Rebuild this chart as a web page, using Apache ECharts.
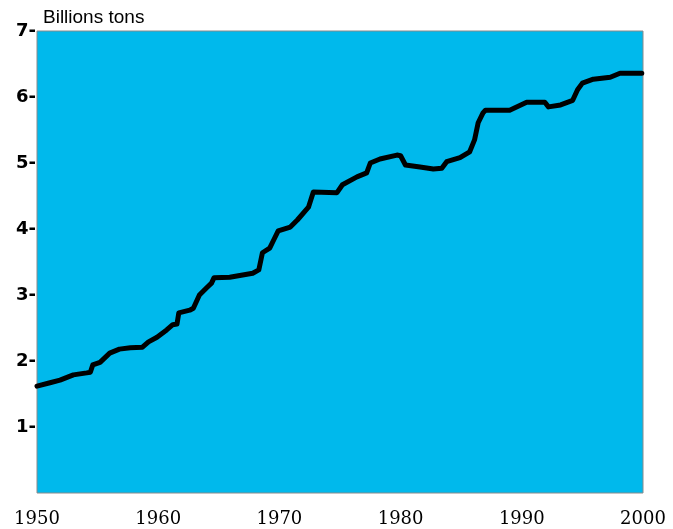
<!DOCTYPE html>
<html>
<head>
<meta charset="utf-8">
<script src="https://cdn.jsdelivr.net/npm/echarts@6/dist/echarts.min.js"></script>
<style>html,body{margin:0;padding:0;background:#fff;}#c{width:673px;height:529px;}</style>
</head>
<body>
<div id="c"></div>
<script>
var years = [1950.0,1951.07,1951.9,1953.0,1954.1,1954.4,1954.6,1955.2,1956.0,1956.8,1957.7,1958.7,1959.2,1959.9,1960.7,1961.2,1961.55,1961.7,1962.6,1962.9,1963.4,1964.0,1964.4,1964.6,1965.9,1967.8,1968.3,1968.6,1969.2,1969.6,1969.9,1970.9,1971.5,1972.4,1972.8,1974.75,1975.2,1976.4,1977.2,1977.5,1978.3,1979.7,1980.0,1980.4,1981.6,1982.7,1983.4,1983.8,1984.9,1985.7,1986.1,1986.4,1986.8,1987.0,1989.0,1990.4,1991.9,1992.2,1993.2,1994.2,1994.6,1995.0,1995.9,1997.3,1998.1,1999.9];
var tons = [1.62,1.67,1.71,1.79,1.82,1.83,1.94,1.98,2.12,2.18,2.20,2.21,2.29,2.36,2.47,2.55,2.56,2.73,2.77,2.80,3.00,3.11,3.18,3.26,3.27,3.33,3.38,3.64,3.71,3.86,3.97,4.03,4.14,4.33,4.56,4.55,4.67,4.79,4.85,5.00,5.06,5.12,5.11,4.97,4.94,4.91,4.92,5.02,5.08,5.17,5.35,5.61,5.76,5.80,5.80,5.92,5.92,5.85,5.88,5.95,6.11,6.21,6.27,6.30,6.36,6.36];
var yTicks = [1,2,3,4,5,6,7];
var xTicks = [1950,1960,1970,1980,1990,2000];
var unitLabel = 'Billions tons';

var data = years.map(function(y,i){return [y,tons[i]];});
var chart = echarts.init(document.getElementById('c'));
chart.setOption({
  animation:false,
  backgroundColor:'#ffffff',
  title:{text:unitLabel,left:38,top:3,textStyle:{fontFamily:'Liberation Sans, Arial, sans-serif',fontSize:19,fontWeight:'normal',color:'#000'}},
  grid:{left:37,right:30,top:31,bottom:36,show:true,backgroundColor:'#00B9EC',borderColor:'#8a8a8a',borderWidth:1},
  xAxis:{type:'value',min:1950,max:2000,interval:10,
    axisLine:{show:false},axisTick:{show:false},splitLine:{show:false},
    axisLabel:{margin:17,color:'#000',fontFamily:'DejaVu Serif, serif',fontSize:18,
      formatter:function(v){return xTicks.indexOf(v)>=0?String(v):'';}}},
  yAxis:{type:'value',min:0,max:7,interval:1,
    axisLine:{show:false},axisTick:{show:false},splitLine:{show:false},
    axisLabel:{margin:1,color:'#000',fontFamily:'DejaVu Sans, Verdana, sans-serif',fontWeight:'bold',fontSize:18,
      formatter:function(v){return yTicks.indexOf(v)>=0?(v+'-'):'';}}},
  series:[{type:'line',data:data,showSymbol:false,smooth:false,
    lineStyle:{color:'#000',width:5,join:'round',cap:'round'}}]
});
</script>
</body>
</html>
